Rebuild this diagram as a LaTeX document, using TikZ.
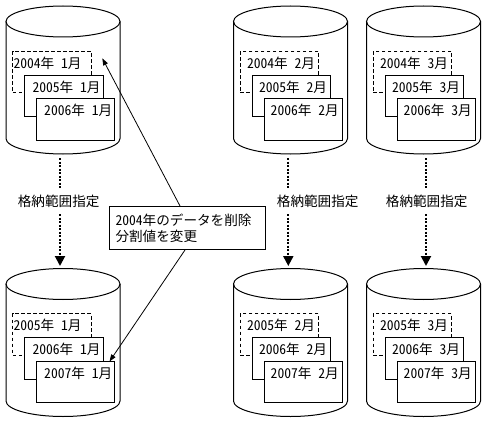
\documentclass[tikz,border=0pt]{standalone}
\usepackage{fontspec}
\setmainfont{Noto Sans CJK JP}[RawFeature=+hwid]
\usetikzlibrary{arrows.meta}
\newcommand\fsz{\fontsize{13.6pt}{16pt}\selectfont}
\tikzset{
  base/.style={line width=1pt},
  dbox/.style={draw, line width=1pt, dash pattern=on 3.5pt off 2.5pt, fill=white, minimum width=78.3pt, minimum height=41.5pt, anchor=north west, inner sep=0pt},
  sbox/.style={draw, line width=1pt, fill=white, minimum width=78.3pt, minimum height=41.5pt, anchor=north west, inner sep=0pt},
  yrtext/.style={anchor=base west, inner sep=0pt, font=\fsz},
  lbl/.style={fill=white, inner xsep=2pt, inner ysep=6pt, font=\fsz},
  dotarrow/.style={line width=2pt, dash pattern=on 2pt off 1.5pt, -{Triangle[length=10pt,width=10pt]}},
  thinarrow/.style={line width=0.8pt, -{Triangle[length=7pt,width=5pt]}},
}
% #1 name, #2 dx, #3 dy, #4 text offset dashed, #5 text offset boxes, #6 #7 #8 years, #9 month
\newcommand\dbcyl[9]{%
  \begin{scope}[shift={(#2,#3)}]
    \draw[base, fill=white] (6,21.5) -- (6,138.5) arc[start angle=180, end angle=360, x radius=57pt, y radius=15.5pt] -- (120,21.5);
    \draw[base] (63,21.5) ellipse[x radius=57pt, y radius=15.5pt];
    \node[dbox] (#1a) at (12.3,50.7) {};
    \node[sbox] (#1b) at (24.3,74.7) {};
    \node[sbox] (#1c) at (36,98.3) {};
    \node[yrtext] (#1at) at ([xshift=#4pt, yshift=-17.5pt]#1a.north west) {#6年 #9月};
    \node[yrtext] (#1bt) at ([xshift=#5pt, yshift=-17.5pt]#1b.north west) {#7年 #9月};
    \node[yrtext] (#1ct) at ([xshift=#5pt, yshift=-17.5pt]#1c.north west) {#8年 #9月};
  \end{scope}}
\begin{document}
\begin{tikzpicture}[x=1pt, y=-1pt]
  \useasboundingbox (0,0) rectangle (484,425);
  \fill[white] (0,0) rectangle (484,425);
  % cylinders
  \dbcyl{ua}{0}{0}{1}{8}{2004}{2005}{2006}{1}
  \dbcyl{ub}{227.5}{0}{7}{7}{2004}{2005}{2006}{2}
  \dbcyl{uc}{360.5}{0}{7}{7}{2004}{2005}{2006}{3}
  \dbcyl{la}{0}{262.5}{1}{8}{2005}{2006}{2007}{1}
  \dbcyl{lb}{227.5}{262.5}{7}{7}{2005}{2006}{2007}{2}
  \dbcyl{lc}{360.5}{262.5}{7}{7}{2005}{2006}{2007}{3}
  % dotted connectors
  \coordinate (d1s) at (60,158);    \coordinate (d1e) at (60,266);
  \coordinate (d2s) at (288.3,158); \coordinate (d2e) at (288.3,266);
  \coordinate (d3s) at (426,158);   \coordinate (d3e) at (426,266);
  \draw[dotarrow] (d1s) -- (d1e);
  \draw[dotarrow] (d2s) -- (d2e);
  \draw[dotarrow] (d3s) -- (d3e);
  \node[lbl] (l1) at (58.7,201.7) {格納範囲指定};
  \node[lbl] (l2) at (317.7,201.7) {格納範囲指定};
  \node[lbl] (l3) at (426.7,201.7) {格納範囲指定};
  % callout
  \node[draw, base, fill=white, anchor=north west, minimum width=155.7pt, minimum height=43pt,
        text width=144.3pt, inner xsep=5.7pt, align=left, font=\fsz] (callout) at (109.3,206)
        {2004年のデータを削除\\分割値を変更};
  \coordinate (t1) at (102.3,58.3);
  \coordinate (t2) at (109.5,361.5);
  \draw[thinarrow] ([xshift=70.7pt]callout.north west) -- (t1);
  \draw[thinarrow] ([xshift=75.7pt]callout.south west) -- (t2);
\end{tikzpicture}
\end{document}
